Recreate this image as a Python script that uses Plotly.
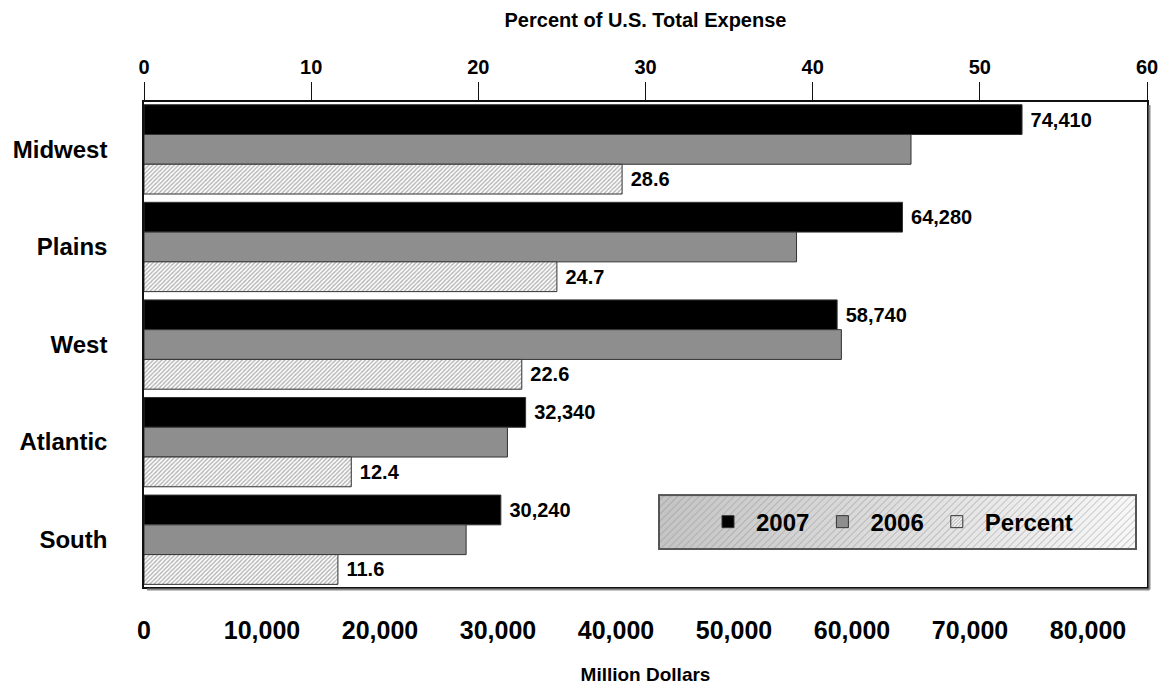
import base64
import plotly.graph_objects as go

regions = ["Midwest", "Plains", "West", "Atlantic", "South"]
expense_2007 = [74410, 64280, 58740, 32340, 30240]
expense_2006 = [65000, 55300, 59100, 30800, 27300]
percent_2007 = [28.6, 24.7, 22.6, 12.4, 11.6]
dollar_ticks = [0, 10000, 20000, 30000, 40000, 50000, 60000, 70000, 80000]
percent_ticks = [0, 10, 20, 30, 40, 50, 60]

FONT = "Liberation Sans, Arial, sans-serif"
BW = 0.305

fig = go.Figure()
fig.add_trace(go.Bar(
    name="2007", y=regions, x=expense_2007, orientation="h",
    xaxis="x", yaxis="y", offset=-0.457, width=BW,
    marker=dict(color="#000000", line=dict(color="#333333", width=1)),
    texttemplate="\u00a0%{x:,.0f}", textposition="outside", cliponaxis=False,
    textfont=dict(family=FONT, size=20, color="#000000", weight="bold"),
))
fig.add_trace(go.Bar(
    name="2006", y=regions, x=expense_2006, orientation="h",
    xaxis="x", yaxis="y", offset=-0.152, width=BW,
    marker=dict(color="#8e8e8e", line=dict(color="#333333", width=1)),
))
fig.add_trace(go.Bar(
    name="Percent", y=regions, x=percent_2007, orientation="h",
    xaxis="x2", yaxis="y", offset=0.153, width=BW,
    marker=dict(color="white", line=dict(color="#333333", width=1),
                pattern=dict(shape="/", size=3, solidity=0.45,
                             fgcolor="#666666", bgcolor="white")),
    texttemplate="\u00a0%{x:.1f}", textposition="outside", cliponaxis=False,
    textfont=dict(family=FONT, size=20, color="#000000", weight="bold"),
))

svg = ('<svg xmlns="http://www.w3.org/2000/svg" width="479" height="56" '
       'viewBox="0 0 479 56" preserveAspectRatio="none"><defs>'
       '<linearGradient id="g" x1="0" y1="0" x2="1" y2="0">'
       '<stop offset="0" stop-color="#c4c4c4"/><stop offset="1" stop-color="#f8f8f8"/>'
       '</linearGradient>'
       '<pattern id="h" width="5" height="5" patternUnits="userSpaceOnUse" '
       'patternTransform="rotate(45)"><line x1="0" y1="0" x2="0" y2="5" '
       'stroke="#8a8a8a" stroke-width="0.8"/></pattern></defs>'
       '<rect x="0" y="0" width="479" height="56" fill="url(#g)"/>'
       '<rect x="0" y="0" width="479" height="56" fill="url(#h)"/>'
       '<rect x="1" y="1" width="477" height="54" fill="none" stroke="#555" stroke-width="2"/>'
       '</svg>')
src = "data:image/svg+xml;base64," + base64.b64encode(svg.encode()).decode()

PW, PH = 1003.0, 485.5
fig.update_layout(
    width=1166, height=685,
    margin=dict(l=144, r=19, t=101.5, b=98, autoexpand=False),
    paper_bgcolor="white", plot_bgcolor="white",
    font=dict(family=FONT, color="#000000"),
    barmode="overlay",
    showlegend=True,
    legend=dict(
        orientation="h", x=(700 - 144) / PW, xanchor="left",
        y=(587 - 522) / PH, yanchor="middle",
        bgcolor="rgba(0,0,0,0)", borderwidth=0,
        itemwidth=46,
        font=dict(family=FONT, size=24, color="#000000", weight="bold"),
        traceorder="normal",
    ),
    xaxis=dict(
        range=[0, 85000], tickvals=dollar_ticks, tickformat=",",
        showgrid=False, zeroline=False, ticks="", automargin=False,
        showline=True, linecolor="#111111", linewidth=1.5, mirror=True,
        ticklabelstandoff=20,
        tickfont=dict(family=FONT, size=25, color="#000000", weight="bold"),
        title=dict(text="Million Dollars", standoff=26,
                   font=dict(family=FONT, size=19, color="#000000", weight="bold")),
    ),
    xaxis2=dict(
        overlaying="x", side="top", range=[0, 60], tickvals=percent_ticks,
        showgrid=False, zeroline=False, automargin=False,
        ticks="outside", ticklen=18, tickwidth=1, tickcolor="#111111",
        showline=True, linecolor="#111111", linewidth=1.5,
        tickfont=dict(family=FONT, size=20, color="#000000", weight="bold"),
        title=dict(text="Percent of U.S. Total Expense", standoff=23,
                   font=dict(family=FONT, size=20, color="#000000", weight="bold")),
    ),
    yaxis=dict(
        type="category", categoryorder="array", categoryarray=regions,
        range=[4.485, -0.485], automargin=False,
        showgrid=False, zeroline=False, ticks="",
        showline=True, linecolor="#111111", linewidth=1.5, mirror=True,
        ticklabelstandoff=30,
        tickfont=dict(family=FONT, size=24, color="#000000", weight="bold"),
    ),
    images=[dict(
        source=src, xref="paper", yref="paper",
        x=(658 - 144) / PW, y=(587 - 494) / PH,
        sizex=(1137 - 658) / PW, sizey=(550 - 494) / PH,
        xanchor="left", yanchor="top", sizing="stretch", layer="above",
    )],
    shapes=[
        dict(type="line", xref="paper", yref="paper",
             x0=1 + 2.5 / PW, x1=1 + 2.5 / PW, y0=-2.5 / PH, y1=1 - 3 / PH,
             line=dict(color="#8a8a8a", width=2)),
        dict(type="line", xref="paper", yref="paper",
             x0=3 / PW, x1=1 + 2.5 / PW, y0=-2.5 / PH, y1=-2.5 / PH,
             line=dict(color="#8a8a8a", width=2)),
    ],
)

fig.write_html("out.html", config={"displayModeBar": False},
               post_script="document.body.style.margin='0';document.body.style.overflow='hidden';")
